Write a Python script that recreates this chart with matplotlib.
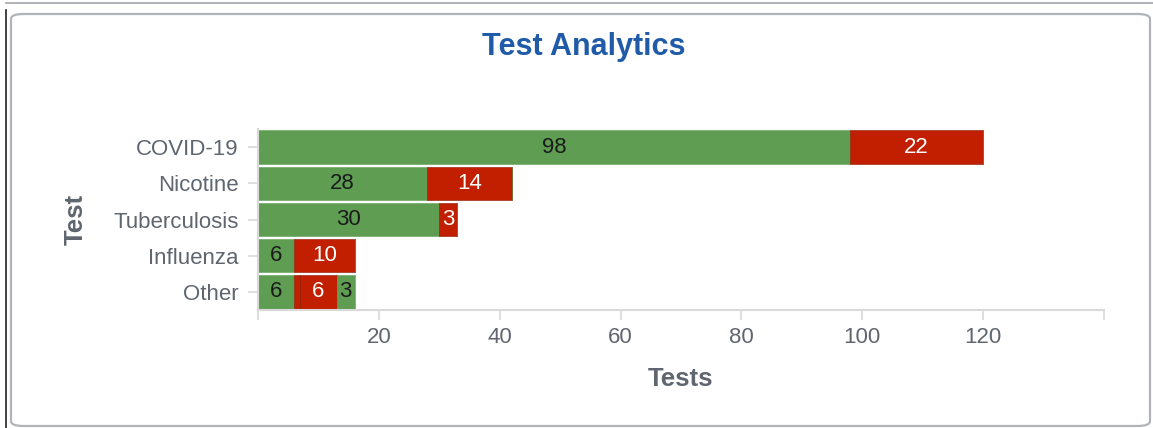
import matplotlib.pyplot as plt
from matplotlib.patches import FancyBboxPatch
from matplotlib.lines import Line2D

plt.rcParams['font.family'] = ['Liberation Sans', 'DejaVu Sans']

tests = ["COVID-19", "Nicotine", "Tuberculosis", "Influenza", "Other"]
negative = [98, 28, 30, 6, 6]
positive = [22, 14, 3, 10, 1]
pending = [0, 0, 0, 0, 6]
inconclusive = [0, 0, 0, 0, 3]
x_ticks = [20, 40, 60, 80, 100, 120]

green = "#5f9e52"
red = "#c21e00"
grey = "#5f6670"
axis_grey = "#d9d9d9"

W, H = 1153, 428
fig = plt.figure(figsize=(W / 100, H / 100), dpi=100)

# page edges behind the panel
fig.lines.append(Line2D([6 / W, 1], [1 - 3 / H, 1 - 3 / H], transform=fig.transFigure,
                        color="#a0a4aa", lw=1.2, zorder=-20))
fig.lines.append(Line2D([6 / W, 6 / W], [0, 1 - 10 / H], transform=fig.transFigure,
                        color="#222222", lw=1.2, zorder=-20))

# panel frame, kept behind the axes
frame = FancyBboxPatch((11 / W, 2 / H), 1139 / W, 412 / H, boxstyle="round,pad=0,rounding_size=0.011",
                       transform=fig.transFigure, facecolor="white", edgecolor="#b0b4ba", linewidth=1.6,
                       zorder=-10)
fig.patches.append(frame)

ax = fig.add_axes([258 / W, 1 - 310 / H, 846 / W, 181 / H])
ax.set_zorder(5)
ax.patch.set_alpha(0)
ypos = range(len(tests))
left = [0] * len(tests)
series = [(negative, green, "#1a1a1a"), (positive, red, "white"),
          (pending, red, "white"), (inconclusive, green, "#1a1a1a")]
for vals, col, txt in series:
    bars = ax.barh(ypos, vals, left=left, height=0.92, color=col, edgecolor="#8a1500" if col == red else col,
                   linewidth=0.4)
    for b, v, l in zip(bars, vals, left):
        if v >= 2:
            ax.text(l + v / 2, b.get_y() + b.get_height() / 2, str(v), ha="center", va="center",
                    color=txt, fontsize=16)
    left = [l + v for l, v in zip(left, vals)]

ax.set_xlim(0, 140)
ax.set_ylim(4.5, -0.5)
ax.set_yticks(list(ypos))
ax.set_yticklabels(tests, fontsize=16, color=grey)
ax.set_xticks([0] + x_ticks + [140])
ax.set_xticklabels([""] + [str(t) for t in x_ticks] + [""], fontsize=16, color=grey)
for s in ["top", "right"]:
    ax.spines[s].set_visible(False)
for s in ["left", "bottom"]:
    ax.spines[s].set_color(axis_grey)
    ax.spines[s].set_linewidth(1.5)
ax.tick_params(axis="both", colors=axis_grey, labelcolor=grey, length=7, width=1.2)
ax.tick_params(axis="x", pad=5)
ax.tick_params(axis="y", pad=7)

ax.set_xlabel("Tests", fontsize=18.5, fontweight="bold", color=grey, labelpad=14)
ax.set_ylabel("Test", fontsize=18.5, fontweight="bold", color=grey, labelpad=18)

fig.text(584 / W, 1 - 47 / H, "Test Analytics", ha="center", va="center", fontsize=22, fontweight="bold",
         color="#1f5ba8")

fig.savefig("out.png", dpi=100)
